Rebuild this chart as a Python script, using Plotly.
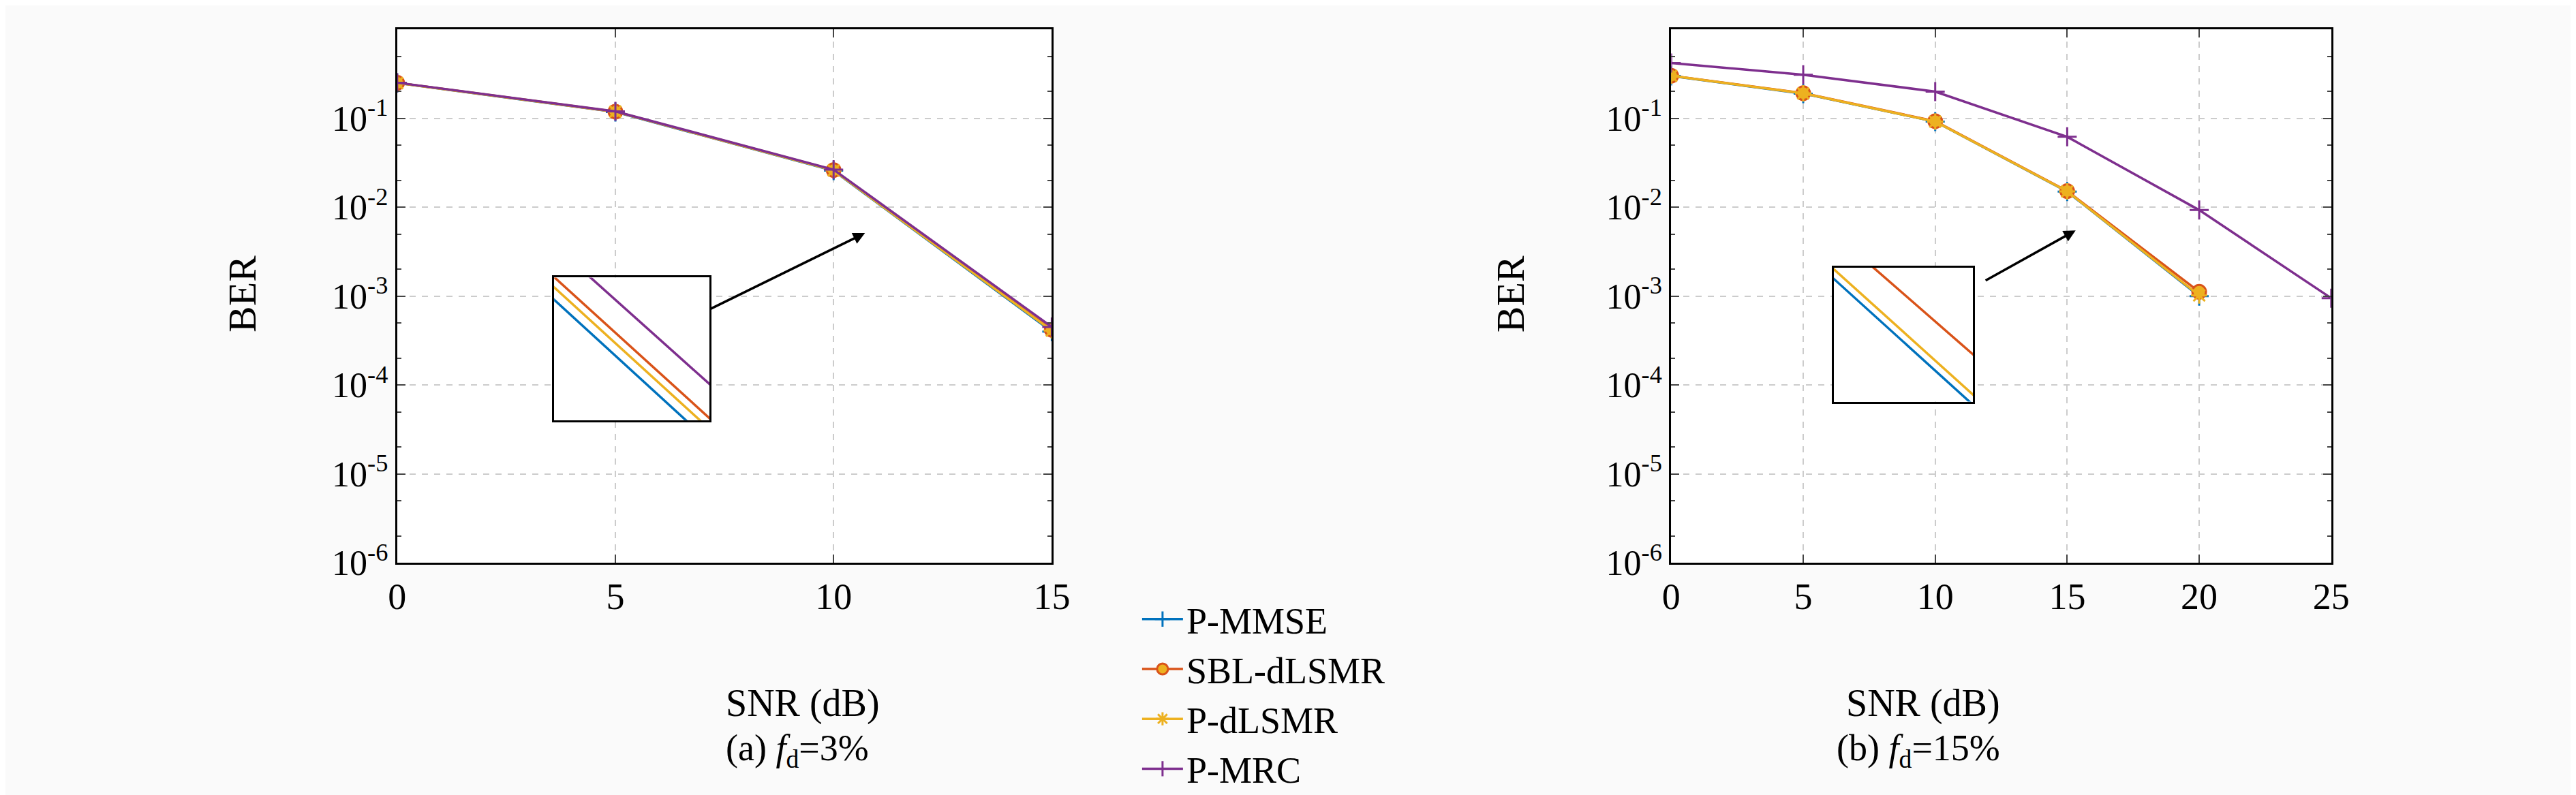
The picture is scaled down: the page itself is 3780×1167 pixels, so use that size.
import numpy as np
import plotly.graph_objects as go

names = ["P-MMSE", "SBL-dLSMR", "P-dLSMR", "P-MRC"]
colors = ["#0072BD", "#D95319", "#EDB120", "#7E2F8E"]
symbols = ["cross-thin-open", "circle", "asterisk-open", "cross-thin-open"]

snr_a = [0, 5, 10, 15]
ber_a = {
    "P-MMSE":    [0.250, 0.118, 0.0258, 0.000400],
    "SBL-dLSMR": [0.251, 0.119, 0.0262, 0.000418],
    "P-dLSMR":   [0.250, 0.119, 0.0260, 0.000410],
    "P-MRC":     [0.252, 0.120, 0.0265, 0.000450],
}
snr_b_ = [0, 5, 10, 15, 20]
snr_b_mrc = [0, 5, 10, 15, 20, 25]
ber_b = {
    "P-MMSE":    [0.300, 0.190, 0.092, 0.0150, 0.00100],
    "SBL-dLSMR": [0.302, 0.192, 0.093, 0.0152, 0.00112],
    "P-dLSMR":   [0.301, 0.191, 0.092, 0.0151, 0.00102],
    "P-MRC":     [0.420, 0.310, 0.200, 0.0620, 0.00930, 0.00095],
}

yt_vals = [1e-6, 1e-5, 1e-4, 1e-3, 1e-2, 1e-1, 1]
yt_text = ["10<sup>-6</sup>", "10<sup>-5</sup>", "10<sup>-4</sup>", "10<sup>-3</sup>",
           "10<sup>-2</sup>", "10<sup>-1</sup>", "10<sup>0</sup>"]

FONT = "Liberation Serif"
fig = go.Figure()

for i, n in enumerate(names):
    mk = dict(symbol=symbols[i], size=20, color=colors[i], line=dict(width=3, color=colors[i]))
    if n == "SBL-dLSMR":
        mk = dict(symbol="circle", size=20, color="#EDB120", line=dict(width=3, color=colors[i]))
    xb = snr_b_mrc if n == "P-MRC" else snr_b_
    fig.add_trace(go.Scatter(x=snr_a, y=ber_a[n], name=n, mode="lines+markers",
                             line=dict(color=colors[i], width=3.5), marker=mk,
                             xaxis="x", yaxis="y", showlegend=True))
    fig.add_trace(go.Scatter(x=xb, y=ber_b[n], name=n, mode="lines+markers",
                             line=dict(color=colors[i], width=3.5), marker=mk,
                             xaxis="x2", yaxis="y2", showlegend=False))
    fig.add_trace(go.Scatter(x=snr_a, y=ber_a[n], mode="lines",
                             line=dict(color=colors[i], width=3.5),
                             xaxis="x3", yaxis="y3", showlegend=False))
    fig.add_trace(go.Scatter(x=xb, y=ber_b[n], mode="lines",
                             line=dict(color=colors[i], width=3.5),
                             xaxis="x4", yaxis="y4", showlegend=False))

def main_x(dom, rng, ticks):
    return dict(domain=dom, range=rng, tickvals=ticks, ticks="inside", ticklen=12, tickwidth=2,
                showline=True, linewidth=3, linecolor="black", mirror="ticks",
                showgrid=True, gridcolor="#cccccc", griddash="dash", gridwidth=1.5,
                zeroline=False, tickfont=dict(family=FONT, size=54, color="black"))

def main_y(dom, anchor):
    return dict(domain=dom, type="log", range=[-6, 0], tickvals=yt_vals, ticktext=yt_text,
                ticks="inside", ticklen=12, tickwidth=2, anchor=anchor,
                showline=True, linewidth=3, linecolor="black", mirror="ticks",
                showgrid=True, gridcolor="#cccccc", griddash="dash", gridwidth=1.5,
                minor=dict(ticks="inside", ticklen=6, tickwidth=1.5, showgrid=False),
                zeroline=False, tickfont=dict(family=FONT, size=52, color="black"))

ydom = [0.281, 0.969]
def inset_ax(dom, rng, anchor, log=False):
    d = dict(domain=dom, range=rng, anchor=anchor, showticklabels=False, ticks="",
             showgrid=False, zeroline=False, showline=True, linewidth=3,
             linecolor="black", mirror=True)
    if log:
        d["type"] = "log"
    return d

xa = 12.5
la = np.interp(xa, snr_a, np.log10(ber_a["P-MMSE"]))
xb0 = 17.6
lb = np.interp(xb0, snr_b_, np.log10(ber_b["P-MMSE"]))

fig.update_layout(
    width=3780, height=1167, margin=dict(l=0, r=0, t=0, b=0),
    paper_bgcolor="#fafafa", plot_bgcolor="white",
    xaxis=main_x([0.150, 0.4069], [0, 15], [0, 5, 10, 15]) | dict(anchor="y"),
    yaxis=main_y(ydom, "x"),
    xaxis2=main_x([0.650, 0.909], [0, 25], [0, 5, 10, 15, 20, 25]) | dict(anchor="y2"),
    yaxis2=main_y(ydom, "x2"),
    xaxis3=inset_ax([0.2116, 0.2725], [xa - 0.09, xa + 0.13], "y3"),
    yaxis3=inset_ax([0.465, 0.649], [la - 0.035, la + 0.045], "x3", log=True),
    xaxis4=inset_ax([0.7138, 0.7685], [xb0 - 0.12, xb0 + 0.2], "y4"),
    yaxis4=inset_ax([0.489, 0.662], [lb - 0.045, lb + 0.035], "x4", log=True),
    legend=dict(x=0.441, y=0.245, xanchor="left", yanchor="top", bgcolor="rgba(0,0,0,0)",
                font=dict(family=FONT, size=54, color="black"), tracegroupgap=0,
                itemwidth=60),
    showlegend=True,
)

ann = [
    dict(text="BER", x=0.080, y=0.628, textangle=-90, size=58, ya="middle"),
    dict(text="BER", x=0.587, y=0.628, textangle=-90, size=58, ya="middle"),
    dict(text="SNR (dB)", x=0.2785, y=0.10, size=56, ya="middle"),
    dict(text="SNR (dB)", x=0.7795, y=0.10, size=56, ya="middle"),
    dict(text="(a) <i>f</i><sub>d</sub>=3%", x=0.2785, y=0.008, size=54, ya="bottom"),
    dict(text="(b) <i>f</i><sub>d</sub>=15%", x=0.7795, y=0.008, size=54, ya="bottom"),
]
for a in ann:
    fig.add_annotation(text=a["text"], x=a["x"], y=a["y"], xref="paper", yref="paper",
                       showarrow=False, textangle=a.get("textangle", 0), yanchor=a["ya"],
                       font=dict(family=FONT, size=a["size"], color="black"))

fig.add_annotation(x=10.72, y=-2.29, ax=7.15, ay=-3.15, xref="x", yref="y", axref="x", ayref="y",
                   showarrow=True, arrowhead=2, arrowsize=1, arrowwidth=3.5, arrowcolor="black", text="")
fig.add_annotation(x=15.32, y=-2.26, ax=11.87, ay=-2.83, xref="x2", yref="y2", axref="x2", ayref="y2",
                   showarrow=True, arrowhead=2, arrowsize=1, arrowwidth=3.5, arrowcolor="black", text="")

fig.write_html("out.html")
